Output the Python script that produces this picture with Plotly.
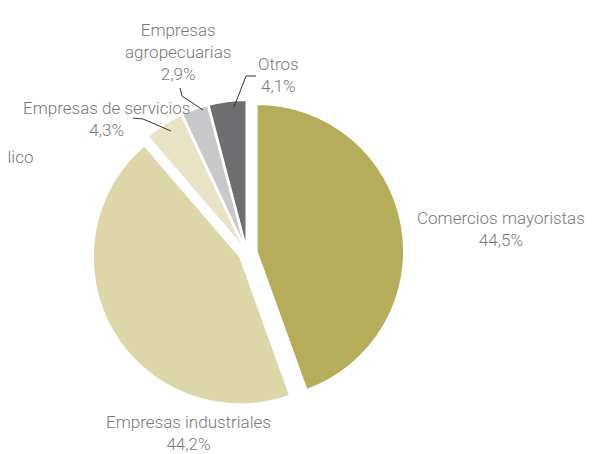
import plotly.graph_objects as go

W, H = 594, 454

categories = ["Comercios mayoristas", "Empresas industriales", "Empresas de servicios",
              "Empresas agropecuarias", "Otros"]
shares = [44.5, 44.2, 4.3, 2.9, 4.1]
label_texts = ["Comercios mayoristas<br>44,5%", "Empresas industriales<br>44,2%",
               "Empresas de servicios<br>4,3%", "Empresas<br>agropecuarias<br>2,9%",
               "Otros<br>4,1%"]
extra_label = "Sector público<br>0,0%"
colors = ["#b5ad5a", "#ddd6a9", "#e9e3c6", "#c8c8ca", "#6e6e70"]
pulls = [0.068, 0.055, 0.04, 0.04, 0.04]

FONT = "Roboto, Liberation Sans Narrow, sans-serif"
TXT = "#787878"
FS = 17

def px(x, y):
    return x / W, 1 - y / H

cx, cy, R = 239, 245, 157
x0, _ = px(cx - R, 0)
x1, _ = px(cx + R, 0)
_, y0 = px(0, cy + R)
_, y1 = px(0, cy - R)

fig = go.Figure(go.Pie(
    labels=categories, values=shares, sort=False, direction="clockwise", rotation=0,
    marker=dict(colors=colors, line=dict(color="white", width=1.5)),
    pull=pulls, textinfo="none", hoverinfo="label+percent",
    domain=dict(x=[x0, x1], y=[y0, y1]), showlegend=False,
))

# label anchor positions (pixel centers)
label_pos = [(493, 221), (180, 425), (98, 111), (170, 44), (270, 67)]
annotations = []
for txt, (lx, ly) in zip(label_texts, label_pos):
    ax, ay = px(lx, ly)
    annotations.append(dict(text=txt, x=ax, y=ay, xref="paper", yref="paper",
                            xanchor="center", yanchor="middle", showarrow=False,
                            font=dict(family=FONT, size=FS, color=TXT, weight=300),
                            align="center"))
ax, ay = px(-28, 160)
annotations.append(dict(text=extra_label, x=ax, y=ay, xref="paper", yref="paper",
                        xanchor="center", yanchor="middle", showarrow=False,
                        font=dict(family=FONT, size=FS, color=TXT, weight=300),
                        align="center"))

leaders = [
    [(125, 110), (135, 111), (163, 123)],
    [(172, 80), (174, 88), (195, 102)],
    [(248, 68), (238, 68), (226, 99)],
]
shapes = []
for pts in leaders:
    path = "M " + " L ".join(f"{px(x, y)[0]:.4f},{px(x, y)[1]:.4f}" for x, y in pts)
    shapes.append(dict(type="path", path=path, xref="paper", yref="paper",
                       line=dict(color="#333333", width=1)))

fig.update_layout(width=W, height=H, margin=dict(l=0, r=0, t=0, b=0),
                  paper_bgcolor="white", plot_bgcolor="white",
                  annotations=annotations, shapes=shapes)
fig.write_html("out.html")
